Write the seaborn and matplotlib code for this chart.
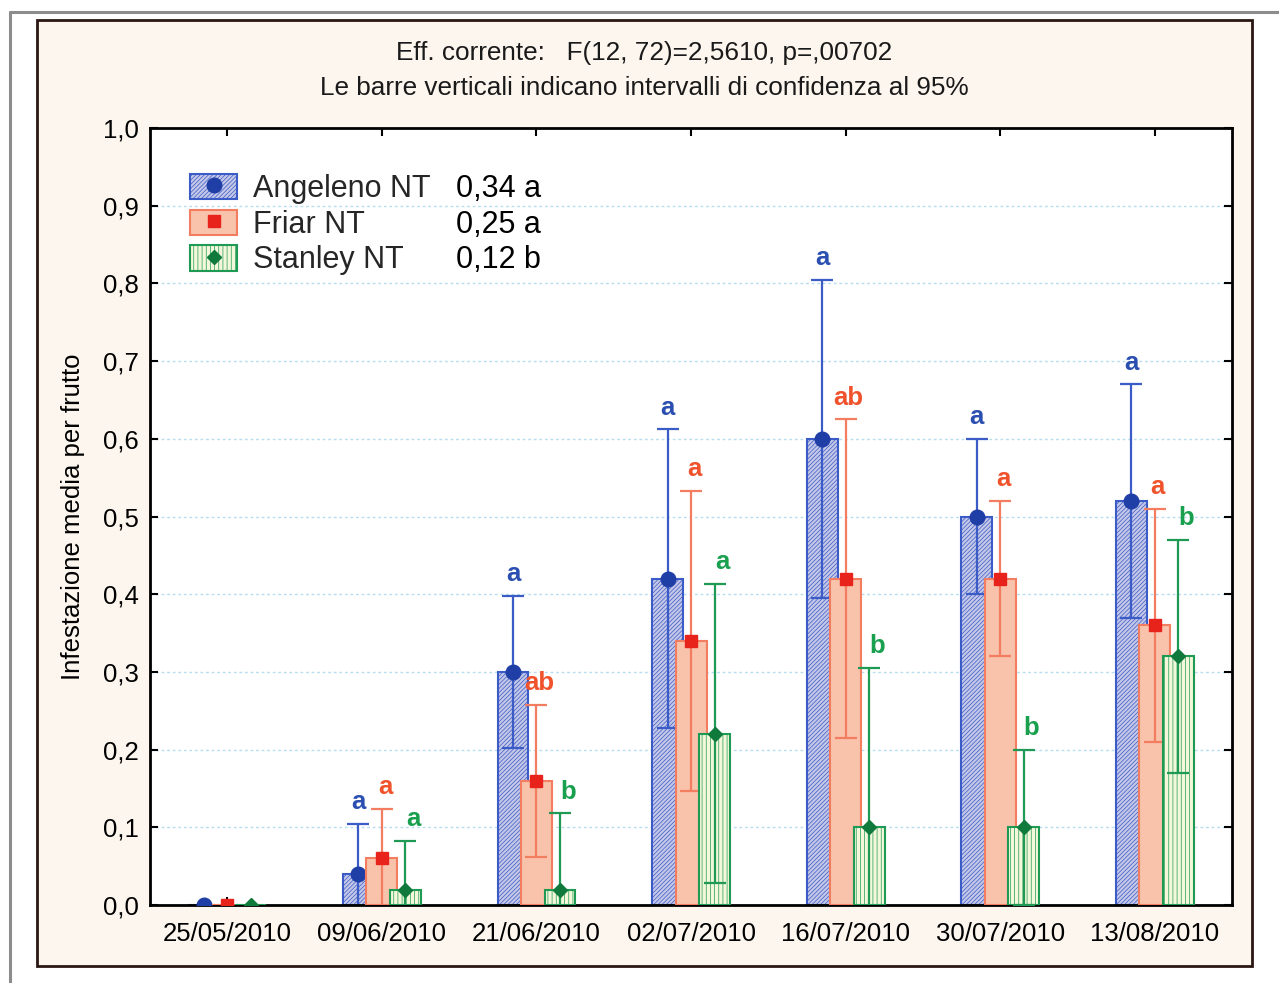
import numpy as np
import pandas as pd
import seaborn as sns
import matplotlib.pyplot as plt
from matplotlib.patches import Patch, Rectangle
from matplotlib.lines import Line2D

# values (mean infestation per fruit, 95% CI)
dates = ['25/05/2010', '09/06/2010', '21/06/2010', '02/07/2010',
         '16/07/2010', '30/07/2010', '13/08/2010']
varieties = ['Angeleno NT', 'Friar NT', 'Stanley NT']
overall = ['0,34 a', '0,25 a', '0,12 b']

angeleno_mean = [0.0, 0.04, 0.30, 0.42, 0.60, 0.50, 0.52]
angeleno_low = [0.0, -0.024, 0.202, 0.228, 0.395, 0.40, 0.37]
angeleno_high = [0.0, 0.104, 0.398, 0.612, 0.805, 0.60, 0.67]
angeleno_letters = ['', 'a', 'a', 'a', 'a', 'a', 'a']

friar_mean = [0.0, 0.06, 0.16, 0.34, 0.42, 0.42, 0.36]
friar_low = [0.0, -0.004, 0.062, 0.147, 0.215, 0.32, 0.21]
friar_high = [0.0, 0.124, 0.258, 0.533, 0.625, 0.52, 0.51]
friar_letters = ['', 'a', 'ab', 'a', 'ab', 'a', 'a']

stanley_mean = [0.0, 0.02, 0.02, 0.22, 0.10, 0.10, 0.32]
stanley_low = [0.0, -0.043, -0.078, 0.028, -0.105, 0.0, 0.17]
stanley_high = [0.0, 0.083, 0.118, 0.413, 0.305, 0.20, 0.47]
stanley_letters = ['', 'a', 'b', 'a', 'b', 'b', 'b']

ytick_labels = ['0,0', '0,1', '0,2', '0,3', '0,4', '0,5', '0,6', '0,7', '0,8', '0,9', '1,0']

means = [angeleno_mean, friar_mean, stanley_mean]
lows = [angeleno_low, friar_low, stanley_low]
highs = [angeleno_high, friar_high, stanley_high]
letters = [angeleno_letters, friar_letters, stanley_letters]

# styles
fills = ['#c4c7e8', '#f9c2ab', '#f3f8da']
edges = ['#3b5cc6', '#f37d61', '#1f9a55']
marker_cols = ['#1f3fa6', '#e8231b', '#0f7a3c']
letter_cols = ['#2b4fb0', '#f0522c', '#19a04f']
markers = ['o', 's', 'D']
msizes = [10.5, 8.5, 7]
hatches = ['////////', None, '||||']
letter_dx = [0.0, 0.02, 0.05]
shift = 0.152  # centre-to-centre distance of the overlapping bars

sns.set_theme(style='white')
plt.rcParams['font.family'] = ['Liberation Sans', 'DejaVu Sans']
plt.rcParams['hatch.linewidth'] = 0.5

df = pd.DataFrame({
    'data': np.tile(dates, 3),
    'varieta': np.repeat(varieties, len(dates)),
    'infestazione': np.concatenate([angeleno_mean, friar_mean, stanley_mean]),
})

fig = plt.figure(figsize=(12.79, 9.83), dpi=100, facecolor='white')

# background frames
fig.add_artist(Line2D([0.0078, 1.0], [0.9878, 0.9878], color='#8c8c8c', lw=2.2))
fig.add_artist(Line2D([0.0078, 0.0078], [0.0, 0.9878], color='#8c8c8c', lw=2.2))
fig.add_artist(Rectangle((0.0289, 0.0173), 0.9502, 0.9624, facecolor='#fdf6ee',
                         edgecolor='#2a1612', lw=2, zorder=0))

ax = fig.add_axes([0.1173, 0.0793, 0.846, 0.7905])
ax.set_facecolor('white')

sns.barplot(data=df, x='data', y='infestazione', hue='varieta', order=dates,
            hue_order=varieties, palette=fills, errorbar=None, width=0.6,
            saturation=1, legend=False, ax=ax)

# pull the dodged bars together so they overlap like the original
for p in list(ax.patches):
    c = p.get_x() + p.get_width() / 2
    i = int(round(c))
    off = c - i
    k = int(round(off / 0.2)) + 1
    k = min(max(k, 0), 2)
    c = i + (k - 1) * shift
    p.set_x(c - p.get_width() / 2)
    p.set_edgecolor(edges[k])
    p.set_linewidth(1.5)
    if hatches[k]:
        p.set_hatch(hatches[k])
    p.set_zorder(2 + k)

pos = np.arange(len(dates))
for k in range(3):
    xs = pos + (k - 1) * shift
    m = np.array(means[k])
    lo = np.array(lows[k])
    hi = np.array(highs[k])
    ok = hi > lo
    ax.errorbar(xs[ok], m[ok], yerr=[m[ok] - lo[ok], hi[ok] - m[ok]], fmt='none',
                ecolor=edges[k], elinewidth=1.6, capsize=8, capthick=1.6, zorder=2.5 + k)
    ax.plot(xs, m, marker=markers[k], ls='none', color=marker_cols[k], ms=msizes[k],
            zorder=2.6 + k)
    for x, h, t in zip(xs, hi, letters[k]):
        if t:
            ax.text(x + letter_dx[k], h + 0.028, t, ha='center', va='center',
                    fontsize=18.5, fontweight='bold', color=letter_cols[k], zorder=10)

ax.set_ylim(0, 1.0)
ax.set_xlim(-0.5, len(dates) - 0.5)
ax.set_yticks(np.arange(11) / 10)
ax.set_yticklabels(ytick_labels)
ax.yaxis.grid(True, color='#b8dcf0', linestyle=(0, (2, 2)), linewidth=1)
ax.set_axisbelow(True)
for s in ax.spines.values():
    s.set_color('black')
    s.set_linewidth(2)
ax.tick_params(axis='both', which='major', direction='in', length=6, width=1.5,
               color='black', labelsize=18.5, labelcolor='black')
ax.tick_params(axis='y', left=True, right=True, pad=8)
ax.tick_params(axis='x', bottom=True, top=True, pad=12)
ax.set_xlabel('')
ax.set_ylabel('Infestazione media per frutto', fontsize=18.5, color='black')
ax.yaxis.set_label_coords(-0.06, 0.5)

fig.text(0.504, 1 - 53 / 983, 'Eff. corrente:   F(12, 72)=2,5610, p=,00702',
         ha='center', va='center', fontsize=18.8, color='#1a1a1a')
fig.text(0.504, 1 - 88 / 983, 'Le barre verticali indicano intervalli di confidenza al 95%',
         ha='center', va='center', fontsize=18.8, color='#1a1a1a')

handles = []
for k in range(3):
    handles.append((Patch(facecolor=fills[k], edgecolor=edges[k], hatch=hatches[k], lw=1.5),
                    Line2D([], [], marker=markers[k], ls='none', color=marker_cols[k],
                           ms=msizes[k])))
leg = ax.legend(handles, varieties, loc='upper left', bbox_to_anchor=(0.037, 0.941),
                frameon=False, fontsize=22, handlelength=1.55, handleheight=0.9,
                handletextpad=0.5, labelspacing=0.18, borderpad=0, borderaxespad=0)

fig.canvas.draw()
inv = fig.transFigure.inverted()
for t, v in zip(leg.get_texts(), overall):
    bb = t.get_window_extent()
    yc = inv.transform((0, (bb.y0 + bb.y1) / 2))[1]
    fig.text(456 / 1279, yc, v, ha='left', va='center', fontsize=22, color='black')

fig.savefig('out.png', dpi=100)
